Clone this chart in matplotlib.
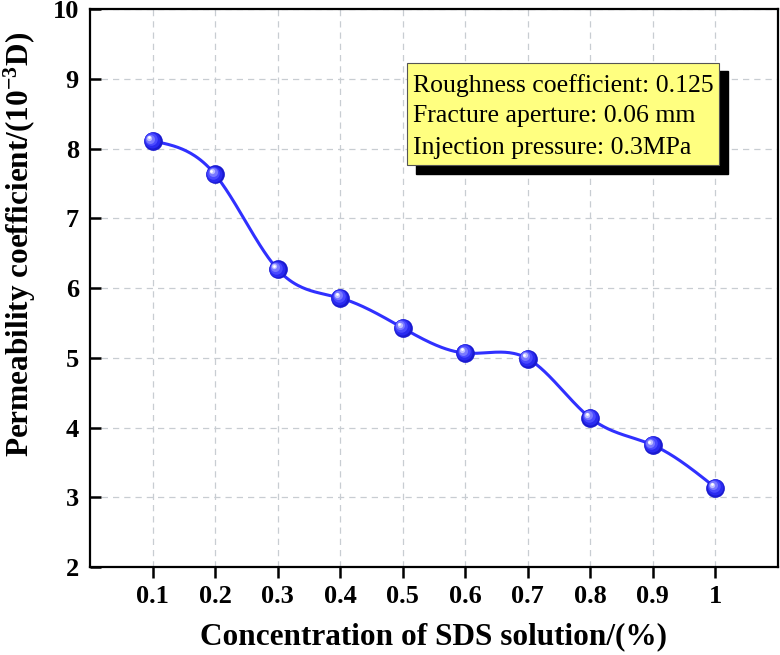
import matplotlib
matplotlib.use('Agg')
import matplotlib.pyplot as plt
import matplotlib.transforms as mtransforms
import numpy as np

concentration = [0.1, 0.2, 0.3, 0.4, 0.5, 0.6, 0.7, 0.8, 0.9, 1.0]
permeability = [8.11, 7.63, 6.27, 5.86, 5.43, 5.07, 4.99, 4.14, 3.75, 3.14]
x_ticks = [0.1, 0.2, 0.3, 0.4, 0.5, 0.6, 0.7, 0.8, 0.9, 1.0]
x_tick_labels = ['0.1', '0.2', '0.3', '0.4', '0.5', '0.6', '0.7', '0.8', '0.9', '1']
y_ticks = [2, 3, 4, 5, 6, 7, 8, 9, 10]
info_lines = ['Roughness coefficient: 0.125',
              'Fracture aperture: 0.06 mm',
              'Injection pressure: 0.3MPa']

plt.rcParams['font.family'] = ['Liberation Serif', 'DejaVu Serif']
plt.rcParams['mathtext.fontset'] = 'custom'
plt.rcParams['mathtext.rm'] = 'Liberation Serif:bold'
plt.rcParams['mathtext.default'] = 'rm'


def natural_spline(x, y, n=400):
    # natural cubic spline, just for drawing the smooth line through the points
    x = np.asarray(x, float)
    y = np.asarray(y, float)
    k = len(x)
    h = np.diff(x)
    a = np.zeros((k, k))
    b = np.zeros(k)
    a[0, 0] = 1
    a[-1, -1] = 1
    for i in range(1, k - 1):
        a[i, i - 1] = h[i - 1]
        a[i, i] = 2 * (h[i - 1] + h[i])
        a[i, i + 1] = h[i]
        b[i] = 3 * ((y[i + 1] - y[i]) / h[i] - (y[i] - y[i - 1]) / h[i - 1])
    c = np.linalg.solve(a, b)
    xs = np.linspace(x[0], x[-1], n)
    idx = np.clip(np.searchsorted(x, xs) - 1, 0, k - 2)
    dx = xs - x[idx]
    hi = h[idx]
    bb = (y[idx + 1] - y[idx]) / hi - hi * (2 * c[idx] + c[idx + 1]) / 3
    dd = (c[idx + 1] - c[idx]) / (3 * hi)
    ys = y[idx] + bb * dx + c[idx] * dx ** 2 + dd * dx ** 3
    return xs, ys


fig = plt.figure(figsize=(7.8, 6.55), dpi=100)
ax = fig.add_axes([0.1154, 0.134, 0.882, 0.852])

xs, ys = natural_spline(concentration, permeability)
ax.plot(xs, ys, color='#3030ff', lw=2.2, zorder=3)

# sphere-like markers: stacked circles shifted toward the upper left
shades = [(13.5, '#1a1ad0', 0, 0), (11.5, '#2a2af0', -0.6, 0.6), (9, '#4a4aff', -1.2, 1.2),
          (6.5, '#7a7aff', -1.8, 1.8), (3.8, '#c0c0ff', -2.3, 2.3), (2, '#ffffff', -2.6, 2.6)]
for size, col, dxp, dyp in shades:
    tr = mtransforms.offset_copy(ax.transData, fig=fig, x=dxp, y=dyp, units='points')
    ax.plot(concentration, permeability, 'o', ms=size, color=col, mec='none',
            transform=tr, zorder=4)

ax.set_xlim(0, 1.1)
ax.set_ylim(2, 10)
ax.set_xticks(x_ticks)
ax.set_xticklabels(x_tick_labels)
ax.set_yticks(y_ticks)
ax.grid(True, color='#c8cdd2', ls=(0, (5, 4)), lw=0.9)
ax.set_axisbelow(True)

for s in ax.spines.values():
    s.set_linewidth(1.6)
ax.tick_params(axis='x', direction='out', length=8, width=1.8, labelsize=19, pad=5)
ax.tick_params(axis='y', direction='in', length=8, width=1.8, labelsize=19, pad=8)
for lab in ax.get_xticklabels() + ax.get_yticklabels():
    lab.set_fontweight('bold')

ax.set_xlabel('Concentration of SDS solution/(%)', fontsize=22.5, fontweight='bold', labelpad=10)
ax.set_ylabel('Permeability coefficient/(10$^{-3}$D)', fontsize=22.5, fontweight='bold')
ax.yaxis.set_label_coords(-0.075, 0.579)

# info box with black drop shadow
box_x, box_y, box_w, box_h = 0.461, 0.720, 0.453, 0.183
ax.add_patch(plt.Rectangle((box_x + 0.013, box_y - 0.0145), box_w, box_h,
                           transform=ax.transAxes, color='black', zorder=5))
ax.add_patch(plt.Rectangle((box_x, box_y), box_w, box_h, transform=ax.transAxes,
                           facecolor='#ffff80', edgecolor='#555555', lw=0.8, zorder=6))
for i, line in enumerate(info_lines):
    ax.text(box_x + 0.008, 0.864 - i * 0.056, line, transform=ax.transAxes,
            fontsize=18.5, va='center', ha='left', zorder=7)

fig.savefig('out.png', dpi=100)
